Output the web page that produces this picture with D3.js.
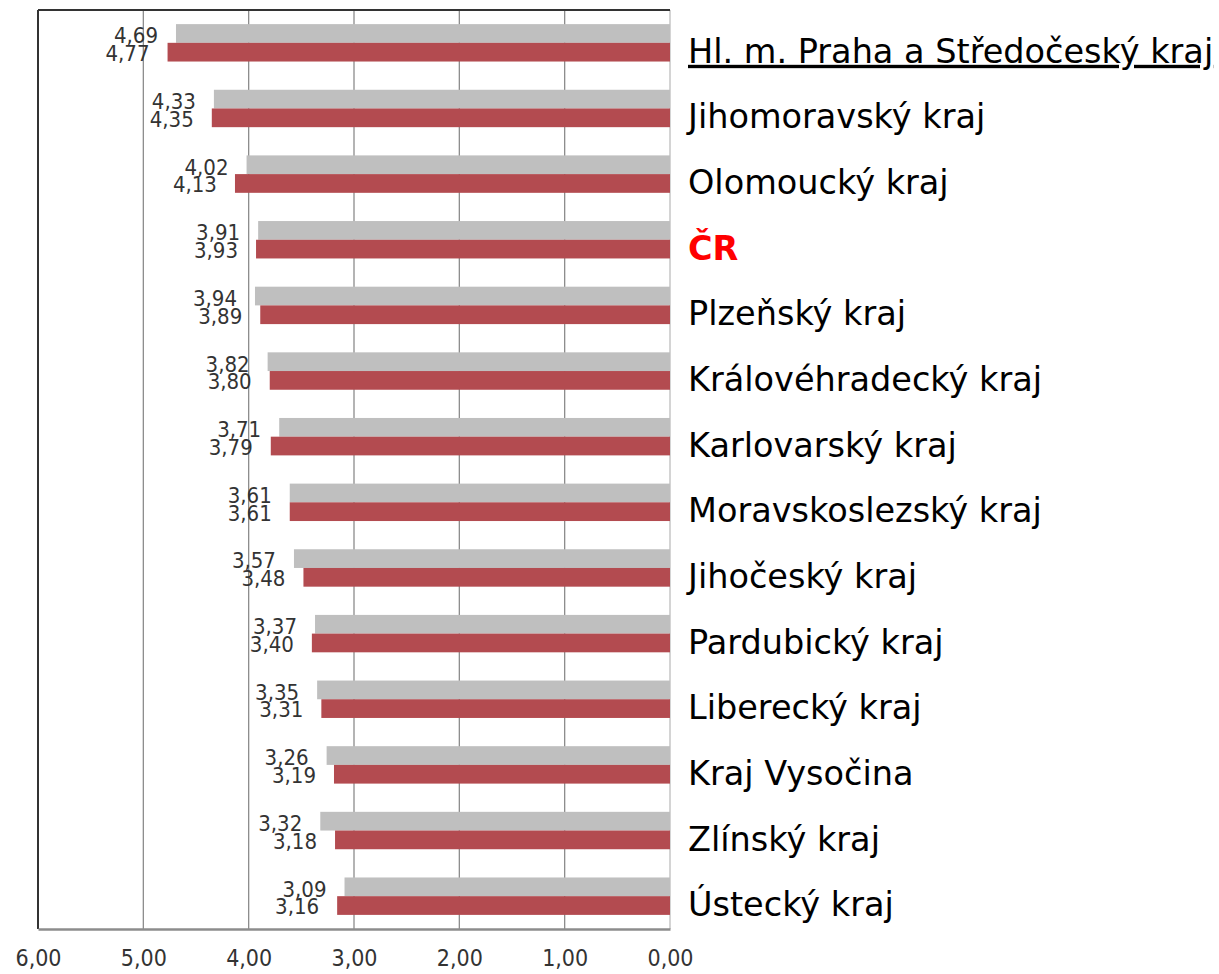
<!DOCTYPE html>
<html><head><meta charset="utf-8">
<script src="https://cdn.jsdelivr.net/npm/d3@7"></script>
<style>body{margin:0;background:#fff}svg{display:block}</style>
</head><body>
<svg id="c" width="1219" height="974"></svg>
<script>
const categories = ["Hl. m. Praha a Středočeský kraj","Jihomoravský kraj","Olomoucký kraj","ČR","Plzeňský kraj","Královéhradecký kraj","Karlovarský kraj","Moravskoslezský kraj","Jihočeský kraj","Pardubický kraj","Liberecký kraj","Kraj Vysočina","Zlínský kraj","Ústecký kraj"];
const seriesGray = [4.69,4.33,4.02,3.91,3.94,3.82,3.71,3.61,3.57,3.37,3.35,3.26,3.32,3.09];
const seriesRed  = [4.77,4.35,4.13,3.93,3.89,3.80,3.79,3.61,3.48,3.40,3.31,3.19,3.18,3.16];
const tickValues = [6,5,4,3,2,1,0];

const svg = d3.select("#c");
const L = 38, R = 670, T = 10, B = 929;
const x = d3.scaleLinear().domain([6,0]).range([L,R]);
const y = d3.scaleBand().domain(categories).range([T,B]).paddingInner(0.43).paddingOuter(0.215);
const fmt = v => d3.format(".2f")(v).replace(".", ",");
const cfont = "'DejaVu Sans Condensed','DejaVu Sans',sans-serif";
const lfont = "'DejaVu Sans',sans-serif";

// gridlines
svg.append("g").selectAll("line").data(tickValues.filter(v=>v>0&&v<6)).join("line")
  .attr("x1",d=>x(d)).attr("x2",d=>x(d)).attr("y1",T).attr("y2",B)
  .attr("stroke","#8c8c8c").attr("stroke-width",1.3);
// right border
svg.append("line").attr("x1",R).attr("x2",R).attr("y1",T).attr("y2",B).attr("stroke","#bdbdbd").attr("stroke-width",1.3);

const bh = y.bandwidth()/2;
svg.append("g").selectAll("rect").data(categories).join("rect")
  .attr("x",(d,i)=>x(seriesGray[i])).attr("width",(d,i)=>x(0)-x(seriesGray[i]))
  .attr("y",d=>y(d)).attr("height",bh).attr("fill","#bfbfbf");
svg.append("g").selectAll("rect").data(categories).join("rect")
  .attr("x",(d,i)=>x(seriesRed[i])).attr("width",(d,i)=>x(0)-x(seriesRed[i]))
  .attr("y",d=>y(d)+bh).attr("height",bh).attr("fill","#b34b50");

// value labels
svg.append("g").selectAll("text").data(categories).join("text")
  .attr("x",(d,i)=>x(seriesGray[i])-18).attr("y",d=>y(d)+bh+0.5)
  .attr("text-anchor","end").attr("font-family",cfont).attr("font-size",22).attr("fill","#333")
  .text((d,i)=>fmt(seriesGray[i]));
svg.append("g").selectAll("text").data(categories).join("text")
  .attr("x",(d,i)=>x(seriesRed[i])-18).attr("y",d=>y(d)+bh*2-0.5)
  .attr("text-anchor","end").attr("font-family",cfont).attr("font-size",22).attr("fill","#333")
  .text((d,i)=>fmt(seriesRed[i]));

// frame: top and left dark
svg.append("line").attr("x1",L).attr("x2",R).attr("y1",T).attr("y2",T).attr("stroke","#333").attr("stroke-width",2);
svg.append("line").attr("x1",L).attr("x2",L).attr("y1",T).attr("y2",B).attr("stroke","#333").attr("stroke-width",2);

// x axis
const ax = svg.append("g").attr("transform",`translate(0,${B})`)
  .call(d3.axisBottom(x).tickValues(tickValues).tickFormat(fmt).tickSize(0).tickPadding(21));
ax.select(".domain").attr("stroke","#8c8c8c").attr("stroke-width",2.5);
ax.selectAll("text").attr("font-family",cfont).attr("font-size",23).attr("fill","#333");

// category labels
svg.append("g").selectAll("text").data(categories).join("text")
  .attr("x",688).attr("y",d=>y(d)+y.bandwidth()/2+20)
  .attr("font-family",lfont).attr("font-size",33.5)
  .attr("fill",d=>d==="ČR"?"#ff0000":"#000")
  .attr("font-weight",d=>d==="ČR"?"bold":"normal")
  .attr("text-decoration",(d,i)=>i===0?"underline":null)
  .text(d=>d);
</script>
</body></html>
